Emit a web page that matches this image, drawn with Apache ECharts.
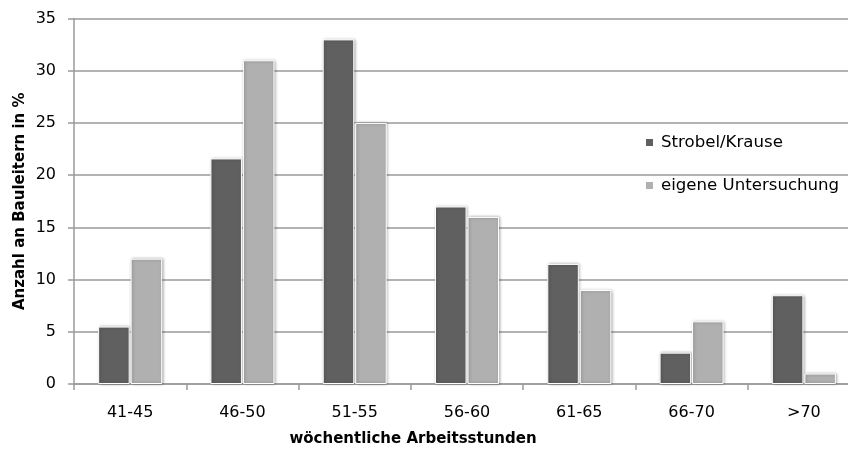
<!DOCTYPE html>
<html><head><meta charset="utf-8">
<script src="https://cdn.jsdelivr.net/npm/echarts@6/dist/echarts.min.js"></script>
<style>html,body{margin:0;padding:0;background:#fff}#c{width:848px;height:450px}</style>
</head><body><div id="c"></div>
<script>
const categories = ['41-45','46-50','51-55','56-60','61-65','66-70','>70'];
const strobelKrause = [5.5, 21.6, 33, 17, 11.5, 3, 8.5];
const eigeneUntersuchung = [12, 31, 25, 16, 9, 6, 1];
const yTicks = [0,5,10,15,20,25,30,35];
const seriesNames = ['Strobel/Krause','eigene Untersuchung'];
const FONT = 'DejaVu Sans';
const chart = echarts.init(document.getElementById('c'), null, {renderer:'canvas'});
const barStyle = (c) => ({color:c, borderColor:'#fff', borderWidth:1, shadowColor:'rgba(0,0,0,0.3)', shadowBlur:3, shadowOffsetX:1, shadowOffsetY:0});
chart.setOption({
  animation:false,
  textStyle:{fontFamily:FONT},
  grid:{left:74, top:18.5, width:786, height:365.5, containLabel:false, outerBoundsMode:'none'},
  legend:{orient:'vertical', left:639, top:129, itemWidth:9, itemHeight:9, itemGap:26, icon:'rect',
    textStyle:{fontFamily:FONT, fontSize:16.6, color:'#000', padding:[0,0,0,2]}, data:seriesNames},
  graphic:[{type:'text', style:{text:'wöchentliche Arbeitsstunden', font:'bold 15px '+FONT, fill:'#000', x:413, y:439, textAlign:'center', textVerticalAlign:'middle'}}],
  xAxis:{type:'category', data:categories,
    axisLine:{lineStyle:{color:'#9a9a9a', width:1.5}},
    axisTick:{show:true, length:6, lineStyle:{color:'#9a9a9a', width:1.5}},
    axisLabel:{fontFamily:FONT, fontSize:16, color:'#000', margin:21}},
  yAxis:{type:'value', min:0, max:35, interval:5,
    name:'Anzahl an Bauleitern in %', nameLocation:'middle', nameGap:46, nameRotate:90, nameMoveOverlap:false,
    nameTextStyle:{fontFamily:FONT, fontSize:15, fontWeight:'bold', color:'#000'},
    axisLine:{show:true, lineStyle:{color:'#9a9a9a', width:1.5}},
    axisTick:{show:true, length:6, lineStyle:{color:'#9a9a9a', width:1.5}},
    splitLine:{lineStyle:{color:'#9a9a9a', width:1.5}},
    axisLabel:{fontFamily:FONT, fontSize:16, color:'#000', margin:18,
      formatter:(v)=> yTicks.includes(v) ? String(v) : ''}},
  series:[
    {name:seriesNames[0], type:'bar', data:strobelKrause, barCategoryGap:'43%', barGap:'3%', itemStyle:barStyle('#606060')},
    {name:seriesNames[1], type:'bar', data:eigeneUntersuchung, barCategoryGap:'43%', barGap:'3%', itemStyle:barStyle('#b0b0b0')}
  ]
});
</script></body></html>
